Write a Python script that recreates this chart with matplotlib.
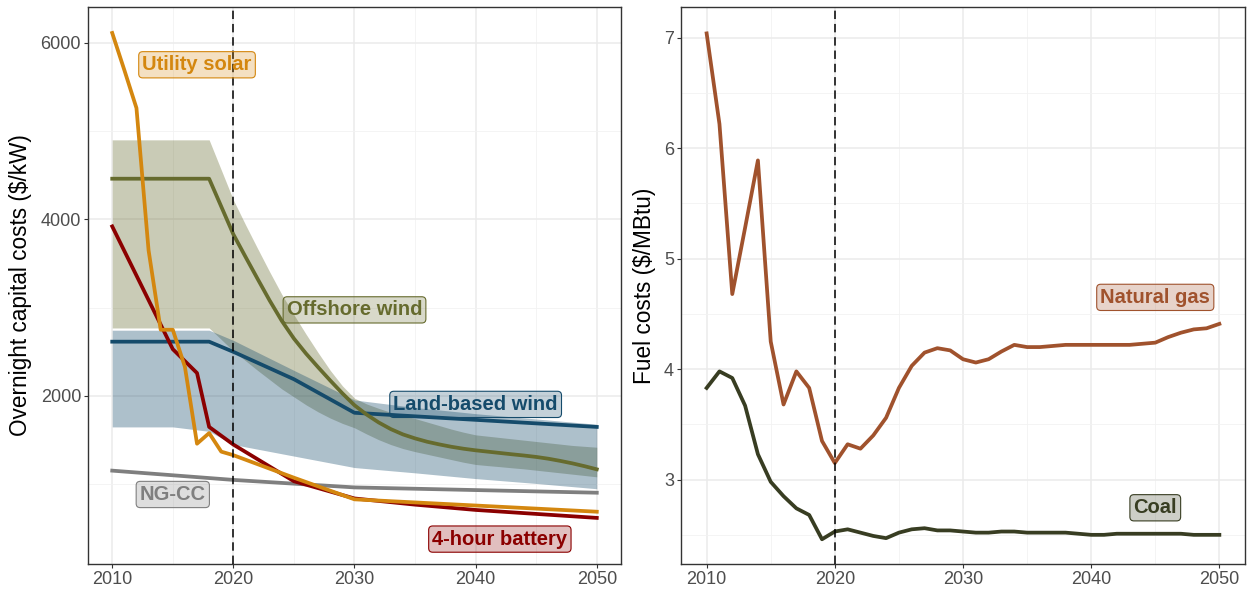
import numpy as np
import matplotlib
matplotlib.use('Agg')
import matplotlib.pyplot as plt
from matplotlib.colors import to_rgba

plt.rcParams['font.family'] = ['Liberation Sans', 'DejaVu Sans']

# ---------------- data (left: overnight capital costs, $/kW) ----------------
years_solar = [2010, 2011, 2012, 2013, 2014, 2015, 2016, 2017, 2018, 2019, 2020, 2025, 2030, 2035, 2040, 2045, 2050]
solar = [6110, 5690, 5260, 3650, 2750, 2750, 2330, 1460, 1580, 1370, 1330, 1075, 830, 795, 760, 725, 690]

years_batt = [2010, 2015, 2017, 2018, 2019, 2020, 2025, 2030, 2035, 2040, 2045, 2050]
battery = [3920, 2530, 2260, 1650, 1550, 1450, 1035, 840, 770, 710, 665, 620]

years_ngcc = [2010, 2020, 2030, 2040, 2050]
ngcc = [1155, 1050, 965, 935, 905]

years_land = [2010, 2015, 2018, 2020, 2025, 2030, 2035, 2040, 2045, 2050]
land = [2615, 2615, 2615, 2500, 2190, 1810, 1770, 1730, 1690, 1650]
land_hi = [2745, 2745, 2745, 2630, 2290, 1955, 1870, 1800, 1740, 1680]
land_lo = [1650, 1650, 1600, 1450, 1320, 1190, 1130, 1065, 1010, 950]

years_off = [2010] + list(range(2018, 2051))
offshore = [4460,
            4460, 4145, 3830, 3576, 3326, 3080, 2850, 2650, 2480, 2325,
            2175, 2030, 1895, 1790, 1700, 1625, 1565, 1520, 1482, 1452,
            1425, 1403, 1385, 1370, 1355, 1340, 1326, 1310, 1290, 1265,
            1237, 1205, 1170]
off_hi = [4900,
          4900, 4560, 4220, 3940, 3670, 3405, 3150, 2920, 2700, 2490,
          2290, 2115, 1975, 1910, 1860, 1815, 1780, 1745, 1705, 1665,
          1625, 1590, 1560, 1545, 1530, 1515, 1500, 1485, 1470, 1455,
          1440, 1430, 1420]
off_lo = [2770,
          2770, 2640, 2510, 2400, 2290, 2185, 2080, 1990, 1900, 1820,
          1750, 1690, 1640, 1570, 1505, 1450, 1405, 1370, 1340, 1310,
          1280, 1250, 1225, 1212, 1200, 1187, 1175, 1160, 1145, 1130,
          1115, 1100, 1085]

# ---------------- data (right: fuel costs, $/MBtu) ----------------
years_fuel = list(range(2010, 2051))
gas = [7.04, 6.22, 4.68, 5.28, 5.89, 4.25, 3.68, 3.98, 3.83, 3.35,
       3.15, 3.32, 3.28, 3.40, 3.56, 3.83, 4.03, 4.15, 4.19, 4.17,
       4.09, 4.06, 4.09, 4.16, 4.22, 4.20, 4.20, 4.21, 4.22, 4.22,
       4.22, 4.22, 4.22, 4.22, 4.23, 4.24, 4.29, 4.33, 4.36, 4.37,
       4.41]
coal = [3.83, 3.98, 3.92, 3.67, 3.23, 2.98, 2.85, 2.74, 2.68, 2.46,
        2.53, 2.55, 2.52, 2.49, 2.47, 2.52, 2.55, 2.56, 2.54, 2.54,
        2.53, 2.52, 2.52, 2.53, 2.53, 2.52, 2.52, 2.52, 2.52, 2.51,
        2.50, 2.50, 2.51, 2.51, 2.51, 2.51, 2.51, 2.51, 2.50, 2.50,
        2.50]

# colours
c_solar = '#D4870F'
c_batt = '#8B0000'
c_ngcc = '#7F7F7F'
c_land = '#154B6B'
c_off = '#666B2E'
c_gas = '#A0522D'
c_coal = '#383D22'

LW = 2.7


def style_axes(ax):
    ax.set_xlim(2008, 2052)
    ax.set_xticks([2010, 2020, 2030, 2040, 2050])
    ax.set_xticks([2015, 2025, 2035, 2045], minor=True)
    ax.grid(True, which='major', color='#EBEBEB', lw=1.1)
    ax.grid(True, which='minor', color='#F2F2F2', lw=0.6)
    ax.set_axisbelow(True)
    for s in ax.spines.values():
        s.set_color('#333333')
        s.set_linewidth(1.0)
    ax.tick_params(which='major', length=3, width=0.8, color='#333333',
                   labelsize=13, labelcolor='#4D4D4D', pad=2)
    ax.tick_params(which='minor', length=0)
    ax.axvline(2020, color='black', lw=1.1, ls=(0, (5.5, 3.2)), zorder=4)


def label(ax, x, y, txt, col):
    ax.text(x, y, txt, color=col, fontsize=14.5, fontweight='bold',
            ha='center', va='center', zorder=6,
            bbox=dict(boxstyle='round,pad=0.18,rounding_size=0.2',
                      fc=to_rgba(col, 0.25), ec=col, lw=0.8))


fig = plt.figure(figsize=(12.47, 5.9), dpi=100)

# ---------------- left panel ----------------
ax1 = fig.add_axes([88 / 1247, 1 - 564 / 590, (621 - 88) / 1247, (564 - 7) / 590])
style_axes(ax1)
ax1.set_ylim(98, 6404)
ax1.set_yticks([2000, 4000, 6000])
ax1.set_yticks([1000, 3000, 5000], minor=True)

ax1.fill_between(years_off, off_lo, off_hi, color=c_off, alpha=0.35, lw=0, zorder=2)
ax1.fill_between(years_land, land_lo, land_hi, color=c_land, alpha=0.35, lw=0, zorder=2)
ax1.plot(years_ngcc, ngcc, color=c_ngcc, lw=LW, zorder=3)
ax1.plot(years_land, land, color=c_land, lw=LW, zorder=3)
ax1.plot(years_off, offshore, color=c_off, lw=LW, zorder=3)
ax1.plot(years_batt, battery, color=c_batt, lw=LW, zorder=3)
ax1.plot(years_solar, solar, color=c_solar, lw=LW, zorder=3)

label(ax1, 2017.0, 5750, 'Utility solar', c_solar)
label(ax1, 2030.0, 2975, 'Offshore wind', c_off)
label(ax1, 2040.0, 1905, 'Land-based wind', c_land)
label(ax1, 2015.0, 885, 'NG-CC', c_ngcc)
label(ax1, 2042.0, 380, '4-hour battery', c_batt)

ax1.set_ylabel('Overnight capital costs ($/kW)', fontsize=16.3, color='black', labelpad=6)

# ---------------- right panel ----------------
ax2 = fig.add_axes([681 / 1247, 1 - 564 / 590, (1245 - 681) / 1247, (564 - 7) / 590])
style_axes(ax2)
ax2.set_ylim(2.236, 7.279)
ax2.set_yticks([3, 4, 5, 6, 7])
ax2.set_yticks([2.5, 3.5, 4.5, 5.5, 6.5], minor=True)

ax2.plot(years_fuel, gas, color=c_gas, lw=LW, zorder=3)
ax2.plot(years_fuel, coal, color=c_coal, lw=LW, zorder=3)

label(ax2, 2045.0, 4.65, 'Natural gas', c_gas)
label(ax2, 2045.0, 2.745, 'Coal', c_coal)

ax2.set_ylabel('Fuel costs ($/MBtu)', fontsize=16.3, color='black', labelpad=6)

fig.savefig('out.png', dpi=100)
